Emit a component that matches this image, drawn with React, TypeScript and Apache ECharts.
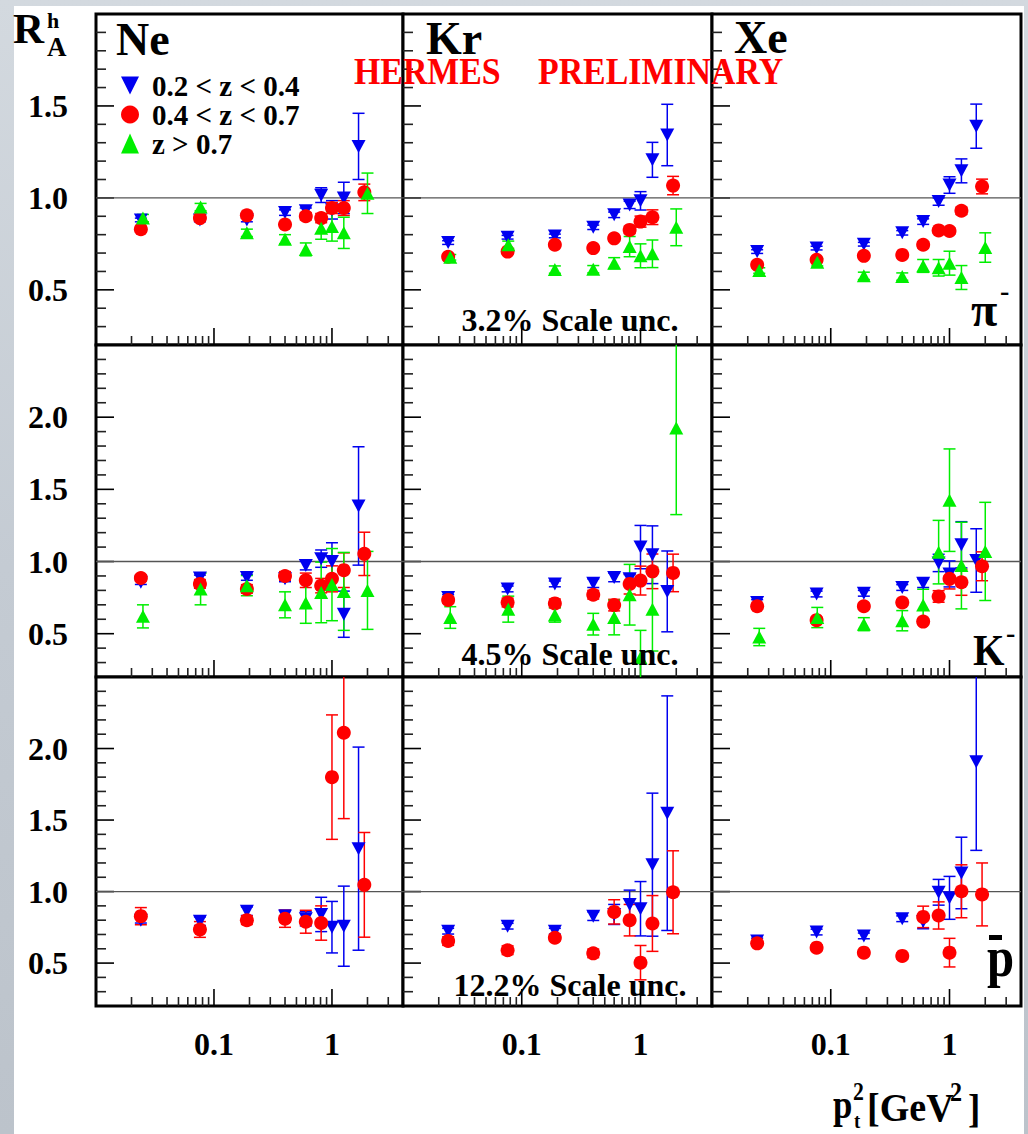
import React, { useEffect, useRef } from 'react';
import * as echarts from 'echarts';

// ---------- axes / layout constants ----------
const X_MIN = 0.01;
const X_MAX = 4;
const Y_MIN = 0.2;
const ROW_Y_MAX = [2.0, 2.5, 2.5];
const COL_EDGES = [96, 403, 712, 1021];
const ROW_EDGES = [14, 345, 677, 1006];

const X_MINOR_TICKS = [0.02, 0.03, 0.04, 0.05, 0.06, 0.07, 0.08, 0.09, 0.2, 0.3, 0.4, 0.5, 0.6, 0.7, 0.8, 0.9, 2, 3];
const X_MAJOR_TICKS = [0.1, 1];
const Y_MINOR_TICKS = [0.3, 0.4, 0.6, 0.7, 0.8, 0.9, 1.1, 1.2, 1.3, 1.4, 1.6, 1.7, 1.8, 1.9, 2.1, 2.2, 2.3, 2.4];
const Y_MAJOR_TICKS = [0.5, 1.0, 1.5, 2.0];

const SERIES_NAMES = ['0.2 < z < 0.4', '0.4 < z < 0.7', 'z > 0.7'];
const COLORS = ['#0000f0', '#ff0000', '#00ee00'];
const DOWN_TRI = 'path://M0,0L10,0L5,10Z';

// ---------- mean pt^2 of each bin (GeV^2) ----------
const BLUE_X = [0.024, 0.076, 0.19, 0.40, 0.60, 0.81, 1.0, 1.26, 1.68];
const RED_X = [0.024, 0.076, 0.19, 0.40, 0.60, 0.81, 1.0, 1.26, 1.88];
const GREEN_X = [0.025, 0.077, 0.19, 0.40, 0.60, 0.81, 1.0, 1.26, 2.0];

// ---------- pi- ----------
const piNeBlue = [0.88, 0.88, 0.88, 0.92, 0.93, 1.015, 0.935, 1.0, 1.28];
const piNeBlueErr = [0.01, 0.01, 0.01, 0.015, 0.015, 0.04, 0.05, 0.085, 0.18];
const piNeRed = [0.83, 0.89, 0.905, 0.855, 0.90, 0.89, 0.945, 0.945, 1.03];
const piNeRedErr = [0.015, 0.015, 0.015, 0.015, 0.02, 0.025, 0.03, 0.04, 0.045];
const piNeGreen = [0.89, 0.95, 0.81, 0.775, 0.72, 0.835, 0.845, 0.81, 1.025];
const piNeGreenErr = [0.02, 0.02, 0.02, 0.025, 0.035, 0.06, 0.08, 0.085, 0.11];

const piKrBlue = [0.757, 0.786, 0.793, 0.84, 0.908, 0.962, 0.984, 1.207, 1.342];
const piKrBlueErr = [0.01, 0.01, 0.01, 0.012, 0.015, 0.02, 0.05, 0.095, 0.167];
const piKrRed = [0.68, 0.708, 0.745, 0.727, 0.78, 0.826, 0.871, 0.895, 1.067];
const piKrRedErr = [0.012, 0.012, 0.012, 0.012, 0.015, 0.02, 0.03, 0.04, 0.05];
const piKrGreen = [0.677, 0.745, 0.61, 0.612, 0.645, 0.735, 0.685, 0.696, 0.84];
const piKrGreenErr = [0.015, 0.02, 0.02, 0.02, 0.03, 0.055, 0.065, 0.075, 0.1];

const piXeBlue = [0.708, 0.727, 0.748, 0.81, 0.871, 0.98, 1.07, 1.147, 1.39];
const piXeBlueErr = [0.01, 0.01, 0.01, 0.012, 0.015, 0.02, 0.045, 0.065, 0.12];
const piXeRed = [0.636, 0.663, 0.685, 0.69, 0.745, 0.823, 0.82, 0.93, 1.062];
const piXeRedErr = [0.01, 0.01, 0.012, 0.012, 0.015, 0.015, 0.015, 0.02, 0.04];
const piXeGreen = [0.605, 0.65, 0.576, 0.572, 0.63, 0.62, 0.645, 0.567, 0.73];
const piXeGreenErr = [0.015, 0.02, 0.02, 0.02, 0.035, 0.045, 0.065, 0.065, 0.08];

// ---------- K- ----------
const kNeBlue = [0.856, 0.886, 0.89, 0.88, 0.972, 1.02, 1.0, 0.635, 1.385];
const kNeBlueErr = [0.015, 0.02, 0.02, 0.02, 0.03, 0.06, 0.13, 0.16, 0.41];
const kNeRed = [0.886, 0.845, 0.81, 0.90, 0.87, 0.833, 0.88, 0.94, 1.053];
const kNeRedErr = [0.02, 0.03, 0.03, 0.03, 0.05, 0.05, 0.09, 0.12, 0.15];
const kNeGreen = [0.62, 0.81, 0.833, 0.70, 0.712, 0.786, 0.84, 0.793, 0.80];
const kNeGreenErr = [0.08, 0.11, 0.07, 0.09, 0.14, 0.21, 0.25, 0.27, 0.27];

const kKrBlue = [0.75, 0.81, 0.845, 0.85, 0.89, 0.88, 1.10, 1.047, 0.793];
const kKrBlueErr = [0.02, 0.02, 0.02, 0.03, 0.03, 0.03, 0.15, 0.2, 0.28];
const kKrRed = [0.733, 0.716, 0.71, 0.77, 0.698, 0.845, 0.868, 0.932, 0.921];
const kKrRedErr = [0.02, 0.03, 0.03, 0.03, 0.04, 0.07, 0.1, 0.12, 0.13];
const kKrGreen = [0.612, 0.67, 0.63, 0.566, 0.612, 0.77, 0.333, 0.67, 1.925];
const kKrGreenErr = [0.075, 0.09, 0.05, 0.075, 0.12, 0.21, 0.19, 0.29, 0.6];

const kXeBlue = [0.716, 0.775, 0.78, 0.82, 0.85, 0.99, 0.914, 1.116, 1.007];
const kXeBlueErr = [0.02, 0.02, 0.02, 0.02, 0.03, 0.06, 0.09, 0.16, 0.22];
const kXeRed = [0.69, 0.594, 0.69, 0.716, 0.584, 0.758, 0.88, 0.856, 0.967];
const kXeRedErr = [0.02, 0.02, 0.02, 0.02, 0.02, 0.04, 0.07, 0.09, 0.1];
const kXeGreen = [0.477, 0.612, 0.566, 0.59, 0.698, 1.065, 1.425, 0.972, 1.07];
const kXeGreenErr = [0.06, 0.07, 0.045, 0.07, 0.11, 0.22, 0.355, 0.3, 0.34];

// ---------- anti-proton ----------
const pNeBlue = [0.80, 0.793, 0.863, 0.83, 0.81, 0.84, 0.751, 0.758, 1.30];
const pNeBlueErr = [0.02, 0.03, 0.03, 0.04, 0.05, 0.12, 0.18, 0.28, 0.71];
const pNeRed = [0.828, 0.735, 0.80, 0.81, 0.789, 0.78, 1.80, 2.11, 1.047];
const pNeRedErr = [0.06, 0.055, 0.03, 0.06, 0.08, 0.12, 0.435, 0.6, 0.366];

const pKrBlue = [0.723, 0.758, 0.723, 0.828, 0.84, 0.91, 0.88, 1.188, 1.548];
const pKrBlueErr = [0.02, 0.02, 0.02, 0.03, 0.07, 0.1, 0.19, 0.5, 0.82];
const pKrRed = [0.654, 0.59, 0.677, 0.568, 0.858, 0.80, 0.503, 0.777, 0.995];
const pKrRedErr = [0.03, 0.03, 0.02, 0.03, 0.085, 0.11, 0.12, 0.195, 0.29];

const pXeBlue = [0.654, 0.717, 0.69, 0.81, 0.79, 0.995, 0.956, 1.13, 1.908];
const pXeBlueErr = [0.02, 0.02, 0.02, 0.02, 0.05, 0.09, 0.15, 0.25, 0.62];
const pXeRed = [0.638, 0.608, 0.573, 0.55, 0.823, 0.833, 0.573, 1.002, 0.98];
const pXeRedErr = [0.015, 0.02, 0.02, 0.02, 0.075, 0.095, 0.1, 0.185, 0.22];

type SeriesData = [number[], number[]] | null;
const PANELS: { row: number; col: number; sets: SeriesData[] }[] = [
  { row: 0, col: 0, sets: [[piNeBlue, piNeBlueErr], [piNeRed, piNeRedErr], [piNeGreen, piNeGreenErr]] },
  { row: 0, col: 1, sets: [[piKrBlue, piKrBlueErr], [piKrRed, piKrRedErr], [piKrGreen, piKrGreenErr]] },
  { row: 0, col: 2, sets: [[piXeBlue, piXeBlueErr], [piXeRed, piXeRedErr], [piXeGreen, piXeGreenErr]] },
  { row: 1, col: 0, sets: [[kNeBlue, kNeBlueErr], [kNeRed, kNeRedErr], [kNeGreen, kNeGreenErr]] },
  { row: 1, col: 1, sets: [[kKrBlue, kKrBlueErr], [kKrRed, kKrRedErr], [kKrGreen, kKrGreenErr]] },
  { row: 1, col: 2, sets: [[kXeBlue, kXeBlueErr], [kXeRed, kXeRedErr], [kXeGreen, kXeGreenErr]] },
  { row: 2, col: 0, sets: [[pNeBlue, pNeBlueErr], [pNeRed, pNeRedErr], null] },
  { row: 2, col: 1, sets: [[pKrBlue, pKrBlueErr], [pKrRed, pKrRedErr], null] },
  { row: 2, col: 2, sets: [[pXeBlue, pXeBlueErr], [pXeRed, pXeRedErr], null] },
];
const SERIES_X = [BLUE_X, RED_X, GREEN_X];

const FONT = 'Liberation Serif';

function txt(text: string, x: number, y: number, size: number, o: any = {}) {
  const align = o.align || 'left';
  return {
    type: 'text',
    x,
    y,
    scaleX: o.sx || 1,
    z: 20,
    silent: true,
    style: {
      text,
      fill: o.color || '#000',
      fontSize: size,
      fontWeight: 'bold',
      fontFamily: FONT,
      align,
      verticalAlign: 'middle',
      textAlign: align,
      textVerticalAlign: 'middle',
    },
  };
}

function tickRender(params: any, api: any) {
  const x = api.value(0);
  const y = api.value(1);
  const len = api.value(2);
  const dir = api.value(3);
  const p = api.coord([x, y]);
  let shape: any;
  let stroke = len > 12 ? '#000' : '#222';
  let lineWidth = 1.6;
  if (dir === 0) shape = { x1: p[0], y1: p[1], x2: p[0], y2: p[1] - len };
  else if (dir === 1) shape = { x1: p[0], y1: p[1], x2: p[0] + len, y2: p[1] };
  else {
    const q = api.coord([X_MAX, y]);
    shape = { x1: p[0], y1: p[1], x2: q[0], y2: q[1] };
    stroke = '#555';
    lineWidth = 1.3;
  }
  return { type: 'line', shape, style: { stroke, lineWidth } };
}

function makeErrRender(yMax: number, color: string) {
  return (params: any, api: any) => {
    const x = api.value(0);
    const y = api.value(1);
    const e = api.value(2);
    const lo = Math.max(y - e, Y_MIN);
    const hi = Math.min(y + e, yMax);
    const pLo = api.coord([x, lo]);
    const pHi = api.coord([x, hi]);
    const st = { stroke: color, lineWidth: 1.5 };
    const children: any[] = [
      { type: 'line', shape: { x1: pLo[0], y1: pLo[1], x2: pHi[0], y2: pHi[1] }, style: st },
    ];
    if (y - e >= Y_MIN) children.push({ type: 'line', shape: { x1: pLo[0] - 6, y1: pLo[1], x2: pLo[0] + 6, y2: pLo[1] }, style: st });
    if (y + e <= yMax) children.push({ type: 'line', shape: { x1: pHi[0] - 6, y1: pHi[1], x2: pHi[0] + 6, y2: pHi[1] }, style: st });
    return { type: 'group', children };
  };
}

function buildOption() {
  const grid: any[] = [];
  const xAxis: any[] = [];
  const yAxis: any[] = [];
  const series: any[] = [];

  PANELS.forEach((pn, i) => {
    const yMax = ROW_Y_MAX[pn.row];
    grid.push({
      left: COL_EDGES[pn.col],
      top: ROW_EDGES[pn.row],
      width: COL_EDGES[pn.col + 1] - COL_EDGES[pn.col],
      height: ROW_EDGES[pn.row + 1] - ROW_EDGES[pn.row],
      show: true,
      backgroundColor: '#fff',
      borderColor: '#000',
      borderWidth: 3,
      containLabel: false,
      outerBoundsMode: 'none',
    });
    xAxis.push({
      type: 'log',
      logBase: 10,
      gridIndex: i,
      min: X_MIN,
      max: X_MAX,
      axisLine: { show: false },
      axisTick: { show: false },
      splitLine: { show: false },
      axisLabel: {
        show: pn.row === 2,
        margin: 22,
        color: '#000',
        fontFamily: FONT,
        fontWeight: 'bold',
        fontSize: 32,
        formatter: (v: number) => (Math.abs(v - 0.1) < 1e-6 ? '0.1' : Math.abs(v - 1) < 1e-6 ? '1' : ''),
      },
    });
    yAxis.push({
      type: 'value',
      gridIndex: i,
      min: Y_MIN,
      max: yMax,
      interval: 0.1,
      axisLine: { show: false },
      axisTick: { show: false },
      splitLine: { show: false },
      axisLabel: {
        show: pn.col === 0,
        margin: 28,
        color: '#000',
        fontFamily: FONT,
        fontWeight: 'bold',
        fontSize: 32,
        formatter: (v: number) => {
          const twice = v * 2;
          if (Math.abs(twice - Math.round(twice)) > 1e-6) return '';
          if (v < 0.3 || v > yMax - 0.01) return '';
          return v.toFixed(1);
        },
      },
    });

    // ticks + reference line at 1
    const tickData: number[][] = [];
    X_MINOR_TICKS.forEach((v) => tickData.push([v, Y_MIN, 9, 0]));
    X_MAJOR_TICKS.forEach((v) => tickData.push([v, Y_MIN, 17, 0]));
    Y_MINOR_TICKS.filter((v) => v < yMax - 1e-6).forEach((v) => tickData.push([X_MIN, v, 10, 1]));
    Y_MAJOR_TICKS.filter((v) => v < yMax - 1e-6).forEach((v) => tickData.push([X_MIN, v, 18, 1]));
    tickData.push([X_MIN, 1.0, 0, 2]);
    series.push({
      type: 'custom',
      xAxisIndex: i,
      yAxisIndex: i,
      silent: true,
      z: 1,
      renderItem: tickRender,
      data: tickData,
    });

    pn.sets.forEach((set, s) => {
      if (!set) return;
      const [ys, errs] = set;
      const xs = SERIES_X[s];
      series.push({
        type: 'custom',
        xAxisIndex: i,
        yAxisIndex: i,
        silent: true,
        z: 2,
        renderItem: makeErrRender(yMax, COLORS[s]),
        data: ys.map((y, k) => [xs[k], y, errs[k]]),
      });
    });
    pn.sets.forEach((set, s) => {
      if (!set) return;
      const [ys] = set;
      const xs = SERIES_X[s];
      series.push({
        type: 'scatter',
        name: SERIES_NAMES[s],
        xAxisIndex: i,
        yAxisIndex: i,
        silent: true,
        z: 3 + s,
        symbol: s === 0 ? DOWN_TRI : s === 1 ? 'circle' : 'triangle',
        symbolSize: s === 1 ? 14 : [14, 13],
        itemStyle: { color: COLORS[s], opacity: 1 },
        data: ys.map((y, k) => [xs[k], y]),
      });
    });
  });

  const graphic: any[] = [
    // y-axis title R_A^h
    txt('R', 13, 28, 43),
    txt('h', 47, 20, 22),
    txt('A', 47, 47, 27),
    // target names
    txt('Ne', 116, 39, 46),
    txt('Kr', 426, 38, 46),
    txt('Xe', 734, 37, 46),
    // preliminary stamp
    txt('HERMES', 354, 71, 37, { color: '#ff0000', sx: 0.915 }),
    txt('PRELIMINARY', 538, 71, 37, { color: '#ff0000', sx: 0.915 }),
    // scale uncertainties
    txt('3.2% Scale unc.', 570, 320, 32, { align: 'center' }),
    txt('4.5% Scale unc.', 570, 654, 32, { align: 'center' }),
    txt('12.2% Scale unc.', 570, 985, 32, { align: 'center' }),
    // hadron labels
    txt('π', 971, 309, 48),
    txt('-', 1000, 290, 28),
    txt('K', 973, 650, 45, { sx: 0.9 }),
    txt('-', 1006, 632, 28),
    txt('p', 987, 957, 56, { sx: 0.87 }),
    { type: 'rect', z: 20, silent: true, shape: { x: 989, y: 935, width: 13, height: 5 }, style: { fill: '#000' } },
    // x-axis title p_t^2 [GeV^2]
    txt('p', 833, 1105, 40, { sx: 0.87 }),
    txt('2', 853, 1091, 25, { sx: 0.87 }),
    txt('t', 854, 1121, 21, { sx: 0.9 }),
    txt('[GeV', 867, 1108, 41, { sx: 0.93 }),
    txt('2', 950, 1092, 28, { sx: 0.86 }),
    txt(']', 968, 1108, 41, { sx: 0.9 }),
  ];

  return {
    animation: false,
    backgroundColor: 'transparent',
    grid,
    xAxis,
    yAxis,
    series,
    graphic,
    legend: {
      orient: 'vertical',
      left: 121,
      top: 71,
      itemWidth: 18,
      itemHeight: 20,
      itemGap: 0,
      selectedMode: false,
      padding: 0,
      data: [
        { name: SERIES_NAMES[0], icon: DOWN_TRI },
        { name: SERIES_NAMES[1], icon: 'circle' },
        { name: SERIES_NAMES[2], icon: 'triangle' },
      ],
      textStyle: {
        fontFamily: FONT,
        fontWeight: 'bold',
        fontSize: 29,
        lineHeight: 27,
        color: '#000',
        padding: [0, 0, 0, 8],
      },
    },
  };
}

export default function App() {
  const ref = useRef<HTMLDivElement>(null);
  useEffect(() => {
    if (!ref.current) return;
    const chart = echarts.init(ref.current, null, { renderer: 'svg' });
    chart.setOption(buildOption() as any);
    return () => chart.dispose();
  }, []);
  return (
    <div
      style={{
        position: 'absolute',
        left: 0,
        top: 0,
        width: 1028,
        height: 1134,
        background: 'linear-gradient(180deg, #d3d9df 0%, #c4cbd3 50%, #bcc3cb 100%)',
        overflow: 'hidden',
      }}
    >
      <div style={{ position: 'absolute', left: 14, top: 6, width: 1010, height: 1128, background: '#fff' }} />
      <div ref={ref} style={{ position: 'absolute', left: 0, top: 0, width: 1028, height: 1134 }} />
    </div>
  );
}
